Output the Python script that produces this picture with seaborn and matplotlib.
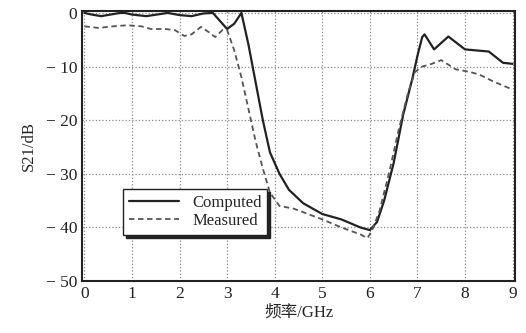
import numpy as np
import pandas as pd
import seaborn as sns
import matplotlib.pyplot as plt

# computed S21
freq_comp = [0, 0.15, 0.35, 0.55, 0.75, 0.85, 1.0, 1.3, 1.6, 1.75, 2.0, 2.25, 2.5, 2.7,
             2.85, 3.0, 3.15, 3.3, 3.45, 3.6, 3.75, 3.9, 4.1, 4.3, 4.6, 5.0, 5.4, 5.8,
             6.0, 6.15, 6.3, 6.5, 6.7, 6.9, 7.0, 7.1, 7.15, 7.35, 7.65, 8.0, 8.5, 8.8, 9.0]
s21_comp = [0, -0.3, -0.6, -0.3, 0, 0, -0.3, -0.6, -0.2, 0, -0.4, -0.6, -0.1, 0,
            -1.5, -3, -2, 0, -6, -13, -20, -26, -30, -33, -35.5, -37.5, -38.5, -40,
            -40.5, -39, -35, -28, -19, -12, -8, -4.5, -4, -6.8, -4.4, -6.8, -7.2, -9.3, -9.5]

# measured S21
freq_meas = [0, 0.3, 0.6, 0.9, 1.2, 1.4, 1.7, 1.9, 2.1, 2.25, 2.45, 2.6, 2.75, 2.9,
             3.0, 3.15, 3.3, 3.45, 3.6, 3.75, 3.9, 4.1, 4.4, 4.7, 5.0, 5.4, 5.8, 5.95,
             6.05, 6.2, 6.4, 6.6, 6.8, 6.95, 7.1, 7.3, 7.5, 7.8, 8.1, 8.3, 8.6, 9.0]
s21_meas = [-2.5, -2.8, -2.5, -2.3, -2.5, -3, -3, -3.2, -4.3, -4, -2.6, -3.5, -4.5, -3.2,
            -3.2, -7, -12, -18, -24, -29, -33.5, -36, -36.5, -37.5, -38.5, -40, -41.3, -42,
            -40.5, -37, -30, -22, -15, -11, -10, -9.5, -8.8, -10.5, -11, -11.5, -12.8, -14.3]

x_ticks = list(range(0, 10))
y_ticks = [0, -10, -20, -30, -40, -50]
y_ticklabels = ['0', '\u2212 10', '\u2212 20', '\u2212 30', '\u2212 40', '\u2212 50']

sns.set_theme(style='white')
plt.rcParams['font.family'] = ['Liberation Serif', 'Noto Sans CJK SC', 'DejaVu Sans']

fig = plt.figure(figsize=(5.26, 3.33), dpi=100)
ax = fig.add_axes([0.156, 0.156, 0.823, 0.81])

df_c = pd.DataFrame({'f': freq_comp, 's21': s21_comp})
df_m = pd.DataFrame({'f': freq_meas, 's21': s21_meas})
sns.lineplot(data=df_c, x='f', y='s21', ax=ax, color='#222222', lw=1.6, label='Computed')
sns.lineplot(data=df_m, x='f', y='s21', ax=ax, color='#555555', lw=1.3,
             linestyle=(0, (3, 2)), label='Measured')

ax.set_xlim(-0.05, 9.05)
ax.set_ylim(-50, 0.3)
ax.set_xticks(x_ticks)
ax.set_yticks(y_ticks)
ax.set_yticklabels(y_ticklabels)
ax.grid(True, linestyle=':', color='#888888', lw=0.9)
for s in ax.spines.values():
    s.set_color('#222222')
    s.set_linewidth(1.5)
ax.tick_params(direction='in', length=3, labelsize=12.5, colors='#222222')
ax.set_xlabel('频率/GHz', fontsize=12, labelpad=2)
ax.set_ylabel('S21/dB', fontsize=12, labelpad=6)

leg = ax.legend(loc='lower left', bbox_to_anchor=(0.075, 0.14), fontsize=12,
                frameon=True, fancybox=False, edgecolor='#222222',
                shadow={'color': '#222222', 'alpha': 1}, borderpad=0.35,
                handlelength=3.0, labelspacing=0.15)
leg.get_frame().set_linewidth(1.0)

fig.savefig('out.png', dpi=100)
